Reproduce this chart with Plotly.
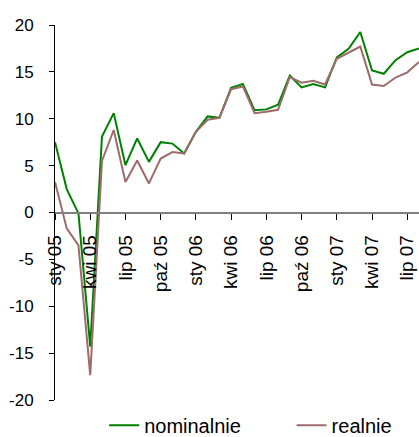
import plotly.graph_objects as go

months = ["sty 05", "lut 05", "mar 05", "kwi 05", "maj 05", "cze 05", "lip 05", "sie 05", "wrz 05",
          "paź 05", "lis 05", "gru 05", "sty 06", "lut 06", "mar 06", "kwi 06", "maj 06", "cze 06",
          "lip 06", "sie 06", "wrz 06", "paź 06", "lis 06", "gru 06", "sty 07", "lut 07", "mar 07",
          "kwi 07", "maj 07", "cze 07", "lip 07", "sie 07"]
nominalnie = [7.5, 2.5, -0.1, -14.3, 8.1, 10.6, 5.05, 7.9, 5.4, 7.5, 7.35, 6.3, 8.6, 10.25, 10.1,
              13.3, 13.7, 10.9, 11.0, 11.5, 14.6, 13.35, 13.7, 13.35, 16.55, 17.45, 19.25,
              15.15, 14.8, 16.25, 17.1, 17.5]
realnie = [3.25, -1.7, -3.5, -17.35, 5.5, 8.8, 3.25, 5.55, 3.1, 5.75, 6.45, 6.3, 8.6, 9.9, 10.1,
           13.15, 13.45, 10.6, 10.75, 10.95, 14.45, 13.85, 14.05, 13.65, 16.4, 17.05, 17.7,
           13.65, 13.5, 14.4, 14.95, 16.05]
tick_labels = months[::3]
y_ticks = [20, 15, 10, 5, 0, -5, -10, -15, -20]

idx = list(range(len(months)))
FONT = "Arial, Liberation Sans, sans-serif"

fig = go.Figure()
fig.add_trace(go.Scatter(x=idx, y=nominalnie, mode="lines", name="nominalnie",
                         line=dict(color="#008000", width=2), legend="legend"))
fig.add_trace(go.Scatter(x=idx, y=realnie, mode="lines", name="realnie",
                         line=dict(color="#9E6B6B", width=2), legend="legend2"))

leg_common = dict(orientation="h", xanchor="left", y=-0.067, yanchor="middle",
                  font=dict(size=20, family=FONT), bgcolor="rgba(0,0,0,0)")

fig.update_layout(
    width=419, height=437,
    margin=dict(l=55, r=0, t=25, b=37, autoexpand=False),
    plot_bgcolor="white", paper_bgcolor="white",
    font=dict(family=FONT, size=17, color="black"),
    showlegend=True,
    legend=dict(x=0.135, **leg_common),
    legend2=dict(x=0.65, **leg_common),
    xaxis=dict(
        range=[0, 31], tickmode="array", tickvals=idx[::3], ticktext=tick_labels,
        tickangle=-90, ticks="outside", ticklen=6, tickcolor="black", tickwidth=1,
        showline=True, linecolor="#808080", linewidth=2,
        showgrid=False, zeroline=False,
        anchor="free", position=0.5, ticklabelstandoff=8,
        tickfont=dict(size=19, family=FONT),
    ),
    yaxis=dict(
        range=[-20, 20], tickmode="array", tickvals=y_ticks, ticktext=[str(v) for v in y_ticks],
        ticks="outside", ticklen=5, tickcolor="black", tickwidth=1,
        showline=True, linecolor="black", linewidth=1,
        showgrid=False, zeroline=False, ticklabelstandoff=12,
        tickfont=dict(size=17, family=FONT),
    ),
)

fig.write_html("out.html", config={"displayModeBar": False},
               post_script="document.body.style.margin='0';document.body.style.overflow='hidden';")
